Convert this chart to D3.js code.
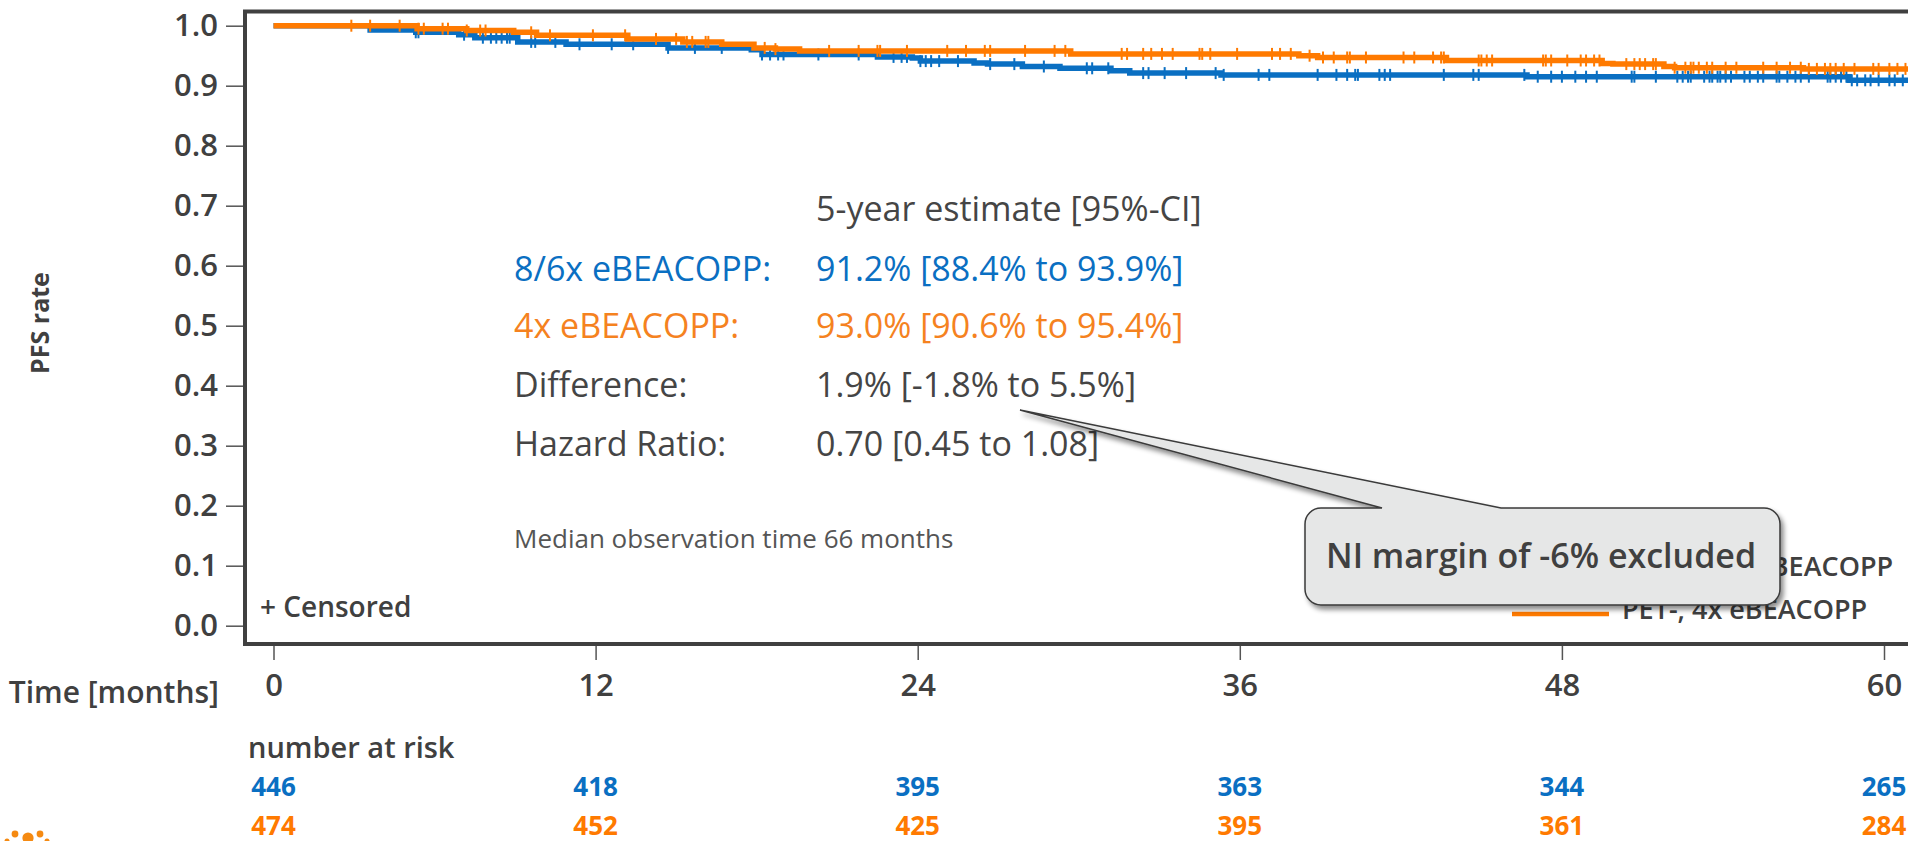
<!DOCTYPE html>
<html>
<head>
<meta charset="utf-8">
<script src="https://cdn.jsdelivr.net/npm/d3@7"></script>
<style>
  body { margin: 0; background: #fff; overflow: hidden; }
  svg { display: block; font-family: 'Open Sans', 'Noto Sans', sans-serif; }
</style>
</head>
<body>
<svg id="chart" width="1908" height="841"></svg>
<script>
// axis ticks
const xTicks = [0, 12, 24, 36, 48, 60];
const yTicks = [0, 0.1, 0.2, 0.3, 0.4, 0.5, 0.6, 0.7, 0.8, 0.9, 1.0];

// PET-, 8/6x eBEACOPP (blue) - step curve
const blueTimes = [0, 3.6, 5.3, 6.9, 7.5, 9.1, 10.9, 14.7, 17.8, 18.2, 22.5, 23.8, 24.1, 26.1, 26.6, 27.9, 29.3, 31.2, 31.9, 35.3, 46.7, 58.7];
const blueSurv = [1.0, 0.993, 0.989, 0.985, 0.980, 0.973, 0.969, 0.963, 0.960, 0.952, 0.948, 0.946, 0.941, 0.938, 0.936, 0.932, 0.929, 0.925, 0.921, 0.918, 0.915, 0.909];
const blueCensor = [5.3, 5.4, 7.1, 7.8, 8.1, 8.3, 8.5, 8.7, 8.8, 9.6, 9.75, 10.5, 11.4, 12.6, 13.4, 14.7, 15.7, 16.7, 18.2, 18.5, 18.8, 19.0, 20.3, 21.8, 23.1, 23.4, 23.6, 24.1, 24.3, 24.5, 24.8, 25.5, 26.7, 27.6, 28.7, 30.3, 30.5, 31.1, 32.4, 32.6, 33.2, 34.0, 35.1, 35.4, 36.7, 37.1, 38.9, 39.6, 40.0, 40.3, 40.4, 41.2, 41.4, 41.6, 43.6, 44.7, 44.9, 46.6, 47.1, 47.6, 48.0, 48.5, 48.9, 49.3, 50.6, 50.7, 51.5, 52.3, 52.5, 52.7, 52.8, 53.3, 53.5, 53.6, 53.8, 53.9, 54.1, 54.3, 54.8, 55.0, 55.3, 55.5, 56.0, 56.1, 56.4, 56.7, 56.9, 57.2, 57.9, 58.0, 58.2, 58.4, 58.6, 58.8, 59.0, 59.3, 59.5, 59.8, 60.2, 60.4, 60.7];

// PET-, 4x eBEACOPP (orange) - step curve
const orangeTimes = [0, 5.35, 7.2, 8.95, 9.8, 13.2, 15.25, 16.7, 17.9, 18.7, 19.6, 29.7, 38.2, 38.9, 43.7, 49.5, 49.9, 51.8, 52.2, 57.0];
const orangeSurv = [1.0, 0.995, 0.992, 0.989, 0.984, 0.978, 0.973, 0.969, 0.963, 0.961, 0.958, 0.953, 0.950, 0.947, 0.942, 0.937, 0.936, 0.932, 0.930, 0.928];
const orangeCensor = [2.9, 3.6, 4.7, 5.4, 5.6, 6.3, 6.5, 7.2, 7.7, 7.9, 9.6, 10.3, 11.9, 13.1, 14.25, 15.0, 15.4, 15.6, 16.1, 16.2, 18.3, 18.7, 20.7, 21.8, 22.5, 22.6, 23.6, 25.1, 25.8, 26.5, 26.7, 28.0, 29.1, 29.5, 31.6, 31.8, 32.4, 32.7, 33.1, 33.5, 34.5, 34.6, 34.9, 35.9, 37.2, 37.5, 37.9, 38.6, 39.1, 39.5, 40.0, 40.1, 40.7, 42.1, 42.5, 43.2, 43.5, 43.6, 44.9, 45.0, 45.2, 45.4, 47.3, 47.4, 47.6, 48.2, 48.7, 48.9, 49.2, 49.4, 50.4, 50.7, 50.9, 51.1, 51.4, 51.5, 52.2, 52.6, 52.8, 52.9, 53.1, 53.4, 53.6, 54.1, 54.5, 55.5, 56.0, 56.5, 56.9, 57.2, 57.5, 57.8, 58.0, 58.2, 58.5, 58.9, 59.6, 59.8, 60.2, 60.5, 60.8];

// number at risk
const riskBlue = [446, 418, 395, 363, 344, 265];
const riskOrange = [474, 452, 425, 395, 361, 284];

// 5-year estimate table
const estLabels = ['8/6x eBEACOPP:', '4x eBEACOPP:', 'Difference:', 'Hazard Ratio:'];
const estValues = ['91.2% [88.4% to 93.9%]', '93.0% [90.6% to 95.4%]', '1.9% [-1.8% to 5.5%]', '0.70 [0.45 to 1.08]'];
const legendLabels = ['PET-, 8/6x eBEACOPP', 'PET-, 4x eBEACOPP'];

const BLUE = '#0a6fc2';
const ORANGE = '#ff7a00';
const ORANGE_TXT = '#f5821f';
const GREY = '#404040';
const FONT = "'Open Sans', 'Noto Sans', sans-serif";

const svg = d3.select('#chart');
const x = d3.scaleLinear().domain([0, 60]).range([273.5, 1884]);
const y = d3.scaleLinear().domain([0, 1]).range([625.7, 25.7]);

const defs = svg.append('defs');
defs.append('clipPath').attr('id', 'plotclip')
    .append('rect').attr('x', 247).attr('y', 13).attr('width', 1700).attr('height', 629);
const shadow = defs.append('filter').attr('id', 'shadow')
    .attr('x', '-10%').attr('y', '-20%').attr('width', '130%').attr('height', '150%');
shadow.append('feDropShadow').attr('dx', 3).attr('dy', 4).attr('stdDeviation', 2.5)
    .attr('flood-color', '#000').attr('flood-opacity', 0.45);

// y axis
const yAxis = svg.append('g').attr('transform', 'translate(245,0)')
    .call(d3.axisLeft(y).tickValues(yTicks).tickFormat(d3.format('.1f')).tickSize(19).tickPadding(8));
yAxis.select('.domain').remove();
yAxis.selectAll('line').attr('stroke', '#555').attr('stroke-width', 1.5);
yAxis.selectAll('text').attr('font-size', 31).attr('font-weight', 600).attr('fill', GREY)
    .attr('font-family', FONT);

// x axis
const xAxis = svg.append('g').attr('transform', 'translate(0,646)')
    .call(d3.axisBottom(x).tickValues(xTicks).tickFormat(d3.format('d')).tickSize(14));
xAxis.select('.domain').remove();
xAxis.selectAll('line').attr('stroke', '#555').attr('stroke-width', 1.5);
xAxis.selectAll('text').attr('font-size', 31).attr('font-weight', 600).attr('fill', GREY)
    .attr('font-family', FONT)
    .attr('y', 50).attr('dy', 0);

// axis titles
svg.append('text').attr('transform', 'translate(49,323) rotate(-90)')
    .attr('text-anchor', 'middle').attr('font-size', 25).attr('font-weight', 'bold')
    .attr('fill', GREY).text('PFS rate');
svg.append('text').attr('x', 219).attr('y', 703).attr('text-anchor', 'end')
    .attr('font-size', 30).attr('font-weight', 600).attr('fill', GREY).text('Time [months]');

// curves
const plot = svg.append('g').attr('clip-path', 'url(#plotclip)');
const stepLine = d3.line().x(d => x(d[0])).y(d => y(d[1])).curve(d3.curveStepAfter);
const series = [
    { times: blueTimes, surv: blueSurv, censor: blueCensor, color: BLUE },
    { times: orangeTimes, surv: orangeSurv, censor: orangeCensor, color: ORANGE }
];
series.forEach(s => {
    const pts = s.times.map((t, i) => [t, s.surv[i]]);
    pts.push([62, s.surv[s.surv.length - 1]]);
    plot.append('path').datum(pts).attr('d', stepLine)
        .attr('fill', 'none').attr('stroke', s.color).attr('stroke-width', 5.5);
    const survAt = t => s.surv[Math.max(0, d3.bisectRight(s.times, t) - 1)];
    plot.append('g').selectAll('line').data(s.censor).join('line')
        .attr('x1', d => x(d)).attr('x2', d => x(d))
        .attr('y1', d => y(survAt(d)) - 6).attr('y2', d => y(survAt(d)) + 6)
        .attr('stroke', s.color).attr('stroke-width', 2);
});

// frame
svg.append('rect').attr('x', 245).attr('y', 11.5).attr('width', 1750).attr('height', 632.5)
    .attr('fill', 'none').attr('stroke', GREY).attr('stroke-width', 4);

svg.append('text').attr('x', 260).attr('y', 617).attr('font-size', 28).attr('font-weight', 600)
    .attr('fill', GREY).text('+ Censored');

// estimate table
const rowY = [281, 338, 397, 456];
const rowColor = [BLUE, ORANGE_TXT, '#454545', '#454545'];
svg.append('text').attr('x', 816).attr('y', 221).attr('font-size', 34).attr('fill', '#454545')
    .text('5-year estimate [95%-CI]');
estLabels.forEach((lab, i) => {
    svg.append('text').attr('x', 514).attr('y', rowY[i]).attr('font-size', 34)
        .attr('fill', rowColor[i]).text(lab);
    svg.append('text').attr('x', 816).attr('y', rowY[i]).attr('font-size', 34)
        .attr('fill', rowColor[i]).text(estValues[i]);
});
svg.append('text').attr('x', 514).attr('y', 548).attr('font-size', 26).attr('fill', '#555')
    .text('Median observation time 66 months');

// legend
const legY = [576, 619];
const legColor = [BLUE, ORANGE];
legendLabels.forEach((lab, i) => {
    svg.append('line').attr('x1', 1512).attr('x2', 1609).attr('y1', legY[i] - 5).attr('y2', legY[i] - 5)
        .attr('stroke', legColor[i]).attr('stroke-width', 4.5);
    svg.append('text').attr('x', 1622).attr('y', legY[i]).attr('font-size', 27).attr('font-weight', 600)
        .attr('fill', GREY).text(lab);
});

// callout
const cx1 = 1305, cy1 = 508, cx2 = 1780, cy2 = 605, r = 16;
const callout = d3.path();
callout.moveTo(cx1 + r, cy1);
callout.lineTo(1382, cy1);
callout.lineTo(1020, 410);
callout.lineTo(1501, cy1);
callout.lineTo(cx2 - r, cy1);
callout.arcTo(cx2, cy1, cx2, cy1 + r, r);
callout.lineTo(cx2, cy2 - r);
callout.arcTo(cx2, cy2, cx2 - r, cy2, r);
callout.lineTo(cx1 + r, cy2);
callout.arcTo(cx1, cy2, cx1, cy2 - r, r);
callout.lineTo(cx1, cy1 + r);
callout.arcTo(cx1, cy1, cx1 + r, cy1, r);
callout.closePath();
svg.append('path').attr('d', callout.toString()).attr('fill', '#e6e7e7')
    .attr('stroke', '#3a3a3a').attr('stroke-width', 1.5).attr('filter', 'url(#shadow)');
svg.append('text').attr('x', 1326).attr('y', 568).attr('font-size', 34).attr('font-weight', 600)
    .attr('fill', GREY).text('NI margin of -6% excluded');

// number at risk
svg.append('text').attr('x', 248).attr('y', 758).attr('font-size', 29).attr('font-weight', 600)
    .attr('fill', GREY).text('number at risk');
[[riskBlue, BLUE, 796], [riskOrange, ORANGE, 835]].forEach(([vals, col, yy]) => {
    svg.append('g').selectAll('text').data(vals).join('text')
        .attr('x', (d, i) => x(xTicks[i])).attr('y', yy)
        .attr('text-anchor', 'middle').attr('font-size', 26).attr('font-weight', 'bold')
        .attr('fill', col).text(d => d);
});

// logo fragment at bottom-left
const logoDots = [[7, 841, 2.5], [15, 834, 3.4], [28, 838, 5.6], [40, 834, 3.4], [47, 841, 2.5]];
svg.append('g').selectAll('circle').data(logoDots).join('circle')
    .attr('cx', d => d[0]).attr('cy', d => d[1]).attr('r', d => d[2]).attr('fill', '#f58a12');
</script>
</body>
</html>
